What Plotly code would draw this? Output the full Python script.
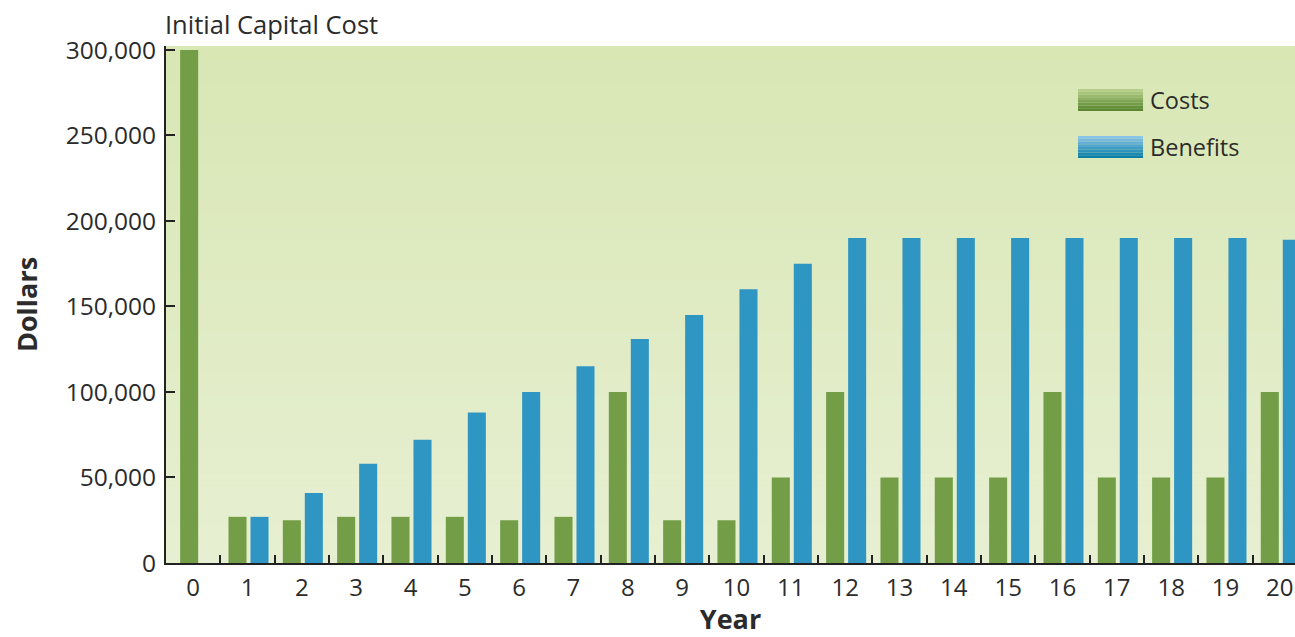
import plotly.graph_objects as go

years = [str(i) for i in range(21)]
costs = [300000, 27000, 25000, 27000, 27000, 27000, 25000, 27000, 100000, 25000, 25000,
         50000, 100000, 50000, 50000, 50000, 100000, 50000, 50000, 50000, 100000]
benefits = [0, 27000, 41000, 58000, 72000, 88000, 100000, 115000, 131000, 145000, 160000,
            175000, 190000, 190000, 190000, 190000, 190000, 190000, 190000, 190000, 189000]
y_ticks = [0, 50000, 100000, 150000, 200000, 250000, 300000]
y_tick_text = ["0", "50,000", "100,000", "150,000", "200,000", "250,000", "300,000"]

FONT = "Open Sans"
TXT = "#2b2b2b"
GREEN = "#739e47"
BLUE = "#2f95c2"

BAR_W = 0.332
cost_offsets = [-0.24] + [-0.35] * (len(years) - 1)
benefit_offsets = [0.055] * len(years)

fig = go.Figure()
fig.add_trace(go.Bar(x=years, y=costs, name="Costs", width=BAR_W, offset=cost_offsets,
                     marker=dict(color=GREEN, line=dict(width=0))))
fig.add_trace(go.Bar(x=years, y=benefits, name="Benefits", width=BAR_W, offset=benefit_offsets,
                     marker=dict(color=BLUE, line=dict(width=0))))


def mix(c1, c2, t):
    a = [int(c1[i:i + 2], 16) for i in (1, 3, 5)]
    b = [int(c2[i:i + 2], 16) for i in (1, 3, 5)]
    return "#" + "".join(f"{round(a[k] + (b[k] - a[k]) * t):02x}" for k in range(3))


shapes = []
# background vertical gradient (styling only)
N = 40
top_c, bot_c = "#d8e7b4", "#e7efd2"
for i in range(N):
    y0 = 1 - (i + 1) / N
    y1 = 1 - i / N
    shapes.append(dict(type="rect", xref="paper", yref="paper", x0=0, x1=1, y0=y0, y1=y1,
                       fillcolor=mix(top_c, bot_c, i / (N - 1)), line=dict(width=0), layer="below"))


# manual legend swatches with gradients
def swatch(x0, x1, y0, y1, ctop, cbot, n=8):
    out = []
    for i in range(n):
        a = y1 - (y1 - y0) * i / n
        b = y1 - (y1 - y0) * (i + 1) / n
        out.append(dict(type="rect", xref="paper", yref="paper", x0=x0, x1=x1, y0=b, y1=a,
                        fillcolor=mix(ctop, cbot, i / (n - 1)), line=dict(width=0), layer="above"))
    return out


shapes += swatch(0.8078, 0.8654, 0.8743, 0.9168, "#b5cf8a", "#5a862f")
shapes += swatch(0.8078, 0.8654, 0.7834, 0.8259, "#8ac4e6", "#0a7fa8")

annotations = [
    dict(text="Initial Capital Cost", xref="paper", yref="paper", x=0.0, y=1.0, xanchor="left",
         yanchor="bottom", showarrow=False, font=dict(family=FONT, size=25.5, color=TXT), yshift=3,
         xshift=-3),
    dict(text="Costs", xref="paper", yref="paper", x=0.8715, y=0.8955, xanchor="left",
         yanchor="middle", showarrow=False, font=dict(family=FONT, size=23.5, color=TXT), xshift=-2),
    dict(text="Benefits", xref="paper", yref="paper", x=0.8715, y=0.8046, xanchor="left",
         yanchor="middle", showarrow=False, font=dict(family=FONT, size=23.5, color=TXT), xshift=-2),
]

fig.update_layout(
    width=1295, height=637,
    margin=dict(l=166, r=0, t=46, b=74, pad=0),
    paper_bgcolor="white",
    plot_bgcolor="#dfeac3",
    barmode="group",
    showlegend=False,
    shapes=shapes,
    annotations=annotations,
    font=dict(family=FONT, color=TXT),
)
fig.update_xaxes(
    type="category", range=[-0.5, 20.28], tickson="boundaries",
    ticks="inside", ticklen=8, tickwidth=2, tickcolor="#222",
    showline=True, linecolor="#222", linewidth=2, showgrid=False, zeroline=False,
    tickfont=dict(family=FONT, size=24, color=TXT), ticklabelstandoff=2,
    title=dict(text="<b>Year</b>", font=dict(family=FONT, size=27, color=TXT), standoff=5),
)
fig.update_yaxes(
    range=[0, 302300], tickvals=y_ticks, ticktext=y_tick_text,
    ticks="inside", ticklen=9, tickwidth=2, tickcolor="#222",
    showline=True, linecolor="#222", linewidth=2, showgrid=False, zeroline=False,
    tickfont=dict(family=FONT, size=24.5, color=TXT), ticklabelstandoff=3,
    title=dict(text="<b>Dollars</b>", font=dict(family=FONT, size=27, color=TXT), standoff=20),
)

fig.write_html("out.html")
